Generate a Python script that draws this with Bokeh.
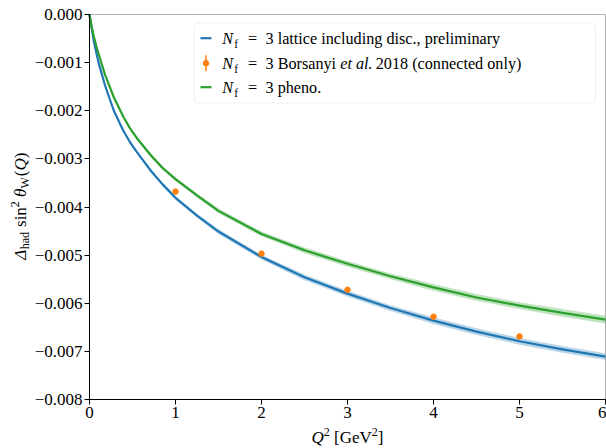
import math
from bokeh.plotting import figure
from bokeh.models import Range1d, FixedTicker, CustomJSTickFormatter, Label, BoxAnnotation
from bokeh.embed import file_html
from bokeh.resources import INLINE

# ---------------- data ----------------
q2 = [0.0, 0.025, 0.05, 0.08, 0.105, 0.18, 0.283, 0.392, 0.47, 0.547, 0.71, 0.85, 1.0, 1.25, 1.5,
      2.0, 2.5, 3.0, 3.5, 4.0, 4.5, 5.0, 5.5, 6.0]
lattice = [0.0, -0.00028, -0.00055, -0.00080, -0.00100, -0.00147, -0.00200, -0.00241, -0.00265, -0.00285,
           -0.00324, -0.00353, -0.00381, -0.00418, -0.00451, -0.00504, -0.00546, -0.00580, -0.00610,
           -0.00636, -0.00659, -0.00679, -0.00696, -0.00711]
lattice_err = [0.0, 0.00001, 0.00001, 0.00002, 0.00002, 0.00002, 0.00003, 0.00003, 0.00003, 0.00003,
               0.00004, 0.00004, 0.00004, 0.00004, 0.00005, 0.00005, 0.00006, 0.00006, 0.00006,
               0.00007, 0.00007, 0.00007, 0.00007, 0.00007]
pheno = [0.0, -0.00025, -0.00045, -0.00066, -0.00081, -0.00125, -0.00172, -0.00212, -0.00236, -0.00256,
         -0.00292, -0.00319, -0.00342, -0.00376, -0.00408, -0.00456, -0.00490, -0.00518, -0.00544,
         -0.00567, -0.00588, -0.00605, -0.00620, -0.00634]
pheno_err = [0.0, 0.00001, 0.00001, 0.00002, 0.00002, 0.00002, 0.00003, 0.00003, 0.00003, 0.00003,
             0.00004, 0.00004, 0.00004, 0.00004, 0.00005, 0.00005, 0.00006, 0.00006, 0.00006,
             0.00007, 0.00007, 0.00007, 0.00008, 0.00008]
bors_q2 = [1, 2, 3, 4, 5]
bors_val = [-0.00368, -0.00497, -0.00572, -0.00628, -0.00669]

xticks = [0, 1, 2, 3, 4, 5, 6]
yticks = [-0.008, -0.007, -0.006, -0.005, -0.004, -0.003, -0.002, -0.001, 0.0]

legend_rest = ["3 lattice including disc., preliminary",
               "3 Borsanyi |et al.| 2018 (connected only)",
               "3 pheno."]
ylabel_parts = [("Δ", "italic", 0), ("had", "normal", 1), (" sin", "normal", 0), ("2", "normal", -1),
                (" θ", "italic", 0), ("W", "normal", 1), ("(", "normal", 0), ("Q", "italic", 0), (")", "normal", 0)]
xlabel_parts = [("Q", "italic", 0), ("2", "normal", -1), (" [GeV", "normal", 0), ("2", "normal", -1), ("]", "normal", 0)]

BLUE = "#1f77b4"
ORANGE = "#ff7f0e"
GREEN = "#2ca02c"
FONT = "Liberation Serif"
BIG = 17
SMALL = 12
LEG = 16.2
LEG_SMALL = 11.5
BASEFIX = 0.31   # empirical shift of Bokeh's alphabetic baseline (em)

# ---------------- geometry (global pixels) ----------------
W, H = 606, 448
FL, FR, FT, FB = 89, 605, 14, 399     # where the axes box sits
X0, X1 = 0.0, 6.0
Y0, Y1 = -0.008, 0.0
ppx = (FR - FL) / (X1 - X0)
ppy = (FB - FT) / (Y1 - Y0)


def sx(px):
    return X0 + (px - FL) / ppx


def sy(py):
    return Y1 - (py - FT) / ppy


WID = {' ': .25, '=': .564, '3': .5, '2': .5, '0': .5, '1': .5, '8': .5, 'a': .444, 'b': .5, 'c': .444,
       'd': .5, 'e': .444, 'f': .333, 'g': .5, 'h': .5, 'i': .278, 'l': .278, 'm': .778, 'n': .5, 'o': .5,
       'p': .5, 'r': .333, 's': .389, 't': .278, 'u': .5, 'y': .5, '.': .25, ',': .25, '(': .333, ')': .333,
       '[': .333, ']': .333, 'B': .667, 'G': .722, 'V': .722, 'N': .667, 'Q': .722, 'W': .944,
       'Δ': .612, 'θ': .5}


def twidth(s, size):
    return sum(WID.get(c, .5) for c in s) * size


# the frame covers the whole canvas; the axes are pinned at the box edges
p = figure(width=W, height=H, x_range=Range1d(sx(0), sx(W)), y_range=Range1d(sy(H), sy(0)),
           output_backend="svg", toolbar_location=None, min_border=0)
p.background_fill_color = "white"
p.border_fill_color = "white"
p.xgrid.visible = False
p.ygrid.visible = False
p.outline_line_color = None

p.xaxis.fixed_location = Y0
p.yaxis.fixed_location = X0
p.xaxis.bounds = (X0, X1)
p.yaxis.bounds = (Y0, Y1)
p.axis.axis_line_color = "black"
p.axis.major_tick_line_color = "black"
p.axis.major_tick_out = 5
p.axis.major_tick_in = 0
p.axis.minor_tick_line_color = None
p.axis.major_label_text_font = FONT
p.axis.major_label_text_font_size = f"{BIG}px"
p.axis.major_label_text_color = "black"
p.axis.major_label_standoff = 2
p.xaxis.ticker = FixedTicker(ticks=xticks)
p.yaxis.ticker = FixedTicker(ticks=yticks)
p.yaxis.formatter = CustomJSTickFormatter(code="return tick.toFixed(3).replace('-', '\\u2212');")
p.xaxis.formatter = CustomJSTickFormatter(code="return tick.toFixed(0);")

# axes box
p.add_layout(BoxAnnotation(left=X0, right=X1, bottom=Y0, top=Y1, fill_color=None,
                           line_color="black", line_width=1, level="underlay"))

lat_lo = [v - e for v, e in zip(lattice, lattice_err)]
lat_hi = [v + e for v, e in zip(lattice, lattice_err)]
phe_lo = [v - e for v, e in zip(pheno, pheno_err)]
phe_hi = [v + e for v, e in zip(pheno, pheno_err)]

p.varea(x=q2, y1=lat_lo, y2=lat_hi, fill_color=BLUE, fill_alpha=0.3)
p.line(q2, lattice, line_color=BLUE, line_width=2.2, line_join="round")
p.scatter(bors_q2, bors_val, size=5.5, fill_color=ORANGE, line_color=ORANGE)
p.varea(x=q2, y1=phe_lo, y2=phe_hi, fill_color=GREEN, fill_alpha=0.3)
p.line(q2, pheno, line_color=GREEN, line_width=2.2, line_join="round")


def add_text(txt, px, py, size, style, vertical=False):
    fix = BASEFIX * size
    if vertical:
        lab = Label(x=sx(px - fix), y=sy(py), text=txt, angle=math.pi / 2,
                    text_font=FONT, text_font_size=f"{size}px", text_font_style=style,
                    text_color="black", text_align="left", text_baseline="alphabetic", level="overlay")
    else:
        lab = Label(x=sx(px), y=sy(py - fix), text=txt,
                    text_font=FONT, text_font_size=f"{size}px", text_font_style=style,
                    text_color="black", text_align="left", text_baseline="alphabetic", level="overlay")
    p.add_layout(lab)


def place(parts, start_px, base_px, vertical=False):
    pos = start_px
    for txt, style, shift in parts:
        size = BIG if shift == 0 else SMALL
        off = 0 if shift == 0 else (3.5 if shift > 0 else -7)
        lead = len(txt) - len(txt.lstrip(' '))
        core = txt.strip(' ')
        step = lead * WID[' '] * size
        pos = pos - step if vertical else pos + step
        if vertical:
            add_text(core, base_px + off, pos, size, style, vertical=True)
        else:
            add_text(core, pos, base_px + off, size, style)
        step = twidth(core, size) + (0.8 if shift > 0 else 0)
        pos = pos - step if vertical else pos + step


# ---------------- legend ----------------
p.add_layout(BoxAnnotation(left=sx(193.5), right=sx(595), top=sy(22.5), bottom=sy(102.5),
                           fill_color="white", fill_alpha=0.8, line_color="#cccccc", line_width=1,
                           border_radius=4))
rows_px = [37.7, 62.7, 86.7]
p.line([sx(200), sx(211)], [sy(rows_px[0])] * 2, line_color=BLUE, line_width=2.2, level="overlay")
p.segment(x0=[sx(205.5)], y0=[sy(rows_px[1] - 8)], x1=[sx(205.5)], y1=[sy(rows_px[1] + 8)],
          line_color=ORANGE, line_width=1.5, level="overlay")
p.scatter([sx(205.5)], [sy(rows_px[1])], size=5.5, fill_color=ORANGE, line_color=ORANGE, level="overlay")
p.line([sx(200), sx(211)], [sy(rows_px[2])] * 2, line_color=GREEN, line_width=2.2, level="overlay")

for rest, rp in zip(legend_rest, rows_px):
    base = rp + 5.6
    add_text("N", 221.7, base, LEG, "italic")
    add_text("f", 233.8, base + 3.3, LEG_SMALL, "normal")
    add_text("=", 247.5, base, LEG, "normal")
    pos = 265.0
    for i, chunk in enumerate(rest.split("|")):
        style = "italic" if i % 2 == 1 else "normal"
        lead = len(chunk) - len(chunk.lstrip(' '))
        pos += lead * WID[' '] * LEG
        core = chunk.strip(' ')
        add_text(core, pos, base, LEG, style)
        pos += twidth(core, LEG) + (len(chunk) - len(chunk.rstrip(' '))) * WID[' '] * LEG

# ---------------- axis labels ----------------
xl_total = sum(twidth(t, BIG if s == 0 else SMALL) for t, _, s in xlabel_parts)
place(xlabel_parts, (FL + FR) / 2 - xl_total / 2, 442)
yl_total = sum(twidth(t, BIG if s == 0 else SMALL) for t, _, s in ylabel_parts)
place(ylabel_parts, (FT + FB) / 2 + yl_total / 2, 25, vertical=True)

open("out.html", "w").write(file_html(p, INLINE))
